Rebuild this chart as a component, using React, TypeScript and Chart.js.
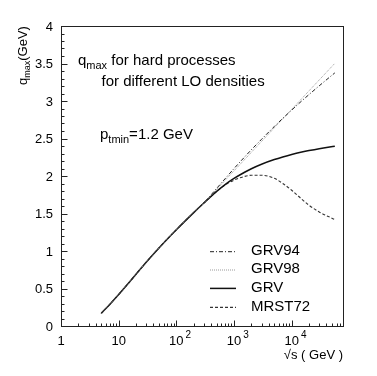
import React, { useEffect, useRef } from "react";
import { Chart, registerables } from "chart.js";

Chart.register(...registerables);

const sqrtS = [5, 7, 10, 15, 20, 30, 50, 70, 100, 150, 200, 300, 500, 700, 1000, 1500, 2000, 3000, 5000, 7000, 10000, 15000, 20000, 30000, 56000];
const grv94 = [0.17, 0.287, 0.419, 0.576, 0.69, 0.85, 1.041, 1.161, 1.283, 1.418, 1.512, 1.64, 1.835, 1.963, 2.099, 2.247, 2.35, 2.489, 2.66, 2.768, 2.879, 3.002, 3.086, 3.202, 3.375];
const grv98 = [0.17, 0.287, 0.419, 0.576, 0.69, 0.85, 1.041, 1.161, 1.283, 1.418, 1.512, 1.64, 1.822, 1.942, 2.069, 2.213, 2.316, 2.46, 2.642, 2.762, 2.889, 3.033, 3.136, 3.28, 3.502];
const grv = [0.17, 0.287, 0.419, 0.576, 0.69, 0.85, 1.041, 1.161, 1.283, 1.418, 1.512, 1.64, 1.795, 1.886, 1.968, 2.047, 2.097, 2.157, 2.219, 2.254, 2.287, 2.319, 2.339, 2.364, 2.397];
const mrst72 = [0.17, 0.287, 0.419, 0.576, 0.69, 0.85, 1.041, 1.161, 1.283, 1.418, 1.512, 1.64, 1.795, 1.88, 1.945, 1.993, 2.01, 2.01, 1.97, 1.9, 1.81, 1.69, 1.61, 1.52, 1.42];

const seriesNames = ["GRV94", "GRV98", "GRV", "MRST72"];
const yTickLabels = ["0", "0.5", "1", "1.5", "2", "2.5", "3", "3.5", "4"];
const xTickDecades = [0, 1, 2, 3, 4];

const X_MIN = 1;
const X_MAX = Math.pow(10, 4.89);
const FONT = '"Liberation Sans", Arial, Helvetica, sans-serif';

const styles = [
  { color: "#222", width: 1, dash: [4, 2, 1, 2] },
  { color: "#9a9a9a", width: 1, dash: [1, 1] },
  { color: "#111", width: 1.5, dash: [] as number[] },
  { color: "#333", width: 1.1, dash: [3, 2] },
];

const textPlugin = {
  id: "rootText",
  afterDraw(chart: any) {
    const ctx = chart.ctx as CanvasRenderingContext2D;
    const { left, right, top, bottom } = chart.chartArea;
    const xs = chart.scales.x;
    const ys = chart.scales.y;
    ctx.save();
    ctx.strokeStyle = "#222";
    ctx.lineWidth = 1;
    ctx.setLineDash([]);
    const L = Math.round(left) + 0.5;
    const R = Math.round(right) + 0.5;
    const T = Math.round(top) + 0.5;
    const B = Math.round(bottom) + 0.5;
    ctx.strokeRect(L, T, R - L, B - T);
    ctx.beginPath();
    for (let i = 0; i <= 40; i++) {
      const v = i / 10;
      const py = Math.round(ys.getPixelForValue(v)) + 0.5;
      const len = i % 5 === 0 ? 6 : 3;
      ctx.moveTo(L, py);
      ctx.lineTo(L + len, py);
    }
    for (const d of xTickDecades) {
      for (let m = 1; m <= 9; m++) {
        const v = m * Math.pow(10, d);
        if (v < X_MIN || v > X_MAX) continue;
        const px = Math.round(xs.getPixelForValue(v)) + 0.5;
        const len = m === 1 ? 6 : 3;
        ctx.moveTo(px, B);
        ctx.lineTo(px, B - len);
      }
    }
    ctx.stroke();

    ctx.fillStyle = "#000";
    ctx.font = `13px ${FONT}`;
    ctx.textAlign = "right";
    ctx.textBaseline = "alphabetic";
    yTickLabels.forEach((lab) => {
      const py = ys.getPixelForValue(parseFloat(lab));
      ctx.fillText(lab, left - 8, py + 4.7);
    });
    xTickDecades.forEach((d) => {
      const px = xs.getPixelForValue(Math.pow(10, d));
      ctx.font = `13px ${FONT}`;
      ctx.textAlign = "center";
      if (d === 0) ctx.fillText("1", px, 345);
      else {
        ctx.fillText("10", px, 345);
        if (d >= 2) {
          const w = ctx.measureText("10").width;
          ctx.font = `10px ${FONT}`;
          ctx.textAlign = "left";
          ctx.fillText(String(d), px + w / 2 + 2, 338);
        }
      }
    });
    ctx.font = `13px ${FONT}`;
    ctx.textAlign = "right";
    ctx.fillText("\u221As ( GeV )", right, 359);

    ctx.save();
    ctx.translate(27, 85);
    ctx.rotate(-Math.PI / 2);
    ctx.textAlign = "left";
    ctx.font = `13px ${FONT}`;
    let x = 0;
    ctx.fillText("q", x, 0);
    x += ctx.measureText("q").width;
    ctx.font = `9px ${FONT}`;
    ctx.fillText("max", x, 3);
    x += ctx.measureText("max").width;
    ctx.font = `13px ${FONT}`;
    ctx.fillText("(GeV)", x, 0);
    ctx.restore();

    const drawSub = (base: string, sub: string, rest: string, x0: number, y0: number) => {
      ctx.textAlign = "left";
      ctx.font = `15px ${FONT}`;
      let cx = x0;
      ctx.fillText(base, cx, y0);
      cx += ctx.measureText(base).width;
      ctx.font = `11px ${FONT}`;
      ctx.fillText(sub, cx, y0 + 4);
      cx += ctx.measureText(sub).width;
      ctx.font = `15px ${FONT}`;
      ctx.fillText(rest, cx, y0);
    };
    drawSub("q", "max", " for hard processes", 78, 65);
    ctx.font = `15px ${FONT}`;
    ctx.fillText("for different LO densities", 101.5, 86);
    drawSub("p", "tmin", "=1.2 GeV", 100, 139);

    const textBase = [255, 273.3, 291.7, 310.7];
    seriesNames.forEach((name, i) => {
      const st = styles[i];
      const ly = textBase[i] - 3.3;
      ctx.beginPath();
      ctx.strokeStyle = st.color;
      ctx.lineWidth = st.width;
      ctx.setLineDash(st.dash);
      ctx.moveTo(210, ly);
      ctx.lineTo(236, ly);
      ctx.stroke();
      ctx.setLineDash([]);
      ctx.font = `15px ${FONT}`;
      ctx.fillStyle = "#000";
      ctx.textAlign = "left";
      ctx.fillText(name, 251, textBase[i]);
    });
    ctx.restore();
  },
};

export default function App() {
  const ref = useRef<HTMLCanvasElement | null>(null);
  useEffect(() => {
    document.body.style.margin = "0";
    const canvas = ref.current!;
    const all = [grv94, grv98, grv, mrst72];
    const chart = new Chart(canvas, {
      type: "line",
      data: {
        datasets: all.map((vals, i) => ({
          label: seriesNames[i],
          data: sqrtS.map((s, j) => ({ x: s, y: vals[j] })),
          borderColor: styles[i].color,
          borderWidth: styles[i].width,
          borderDash: styles[i].dash,
          pointRadius: 0,
          fill: false,
          cubicInterpolationMode: "monotone" as const,
        })),
      },
      options: {
        responsive: false,
        animation: false,
        events: [],
        layout: { padding: { left: 61, top: 26, right: 34, bottom: 50 } },
        plugins: { legend: { display: false }, tooltip: { enabled: false } },
        scales: {
          x: { type: "logarithmic", min: X_MIN, max: X_MAX, display: false },
          y: { type: "linear", min: 0, max: 4, display: false },
        },
      },
      plugins: [textPlugin],
    });
    return () => chart.destroy();
  }, []);
  return (
    <div style={{ width: 377, height: 376, background: "#fff" }}>
      <canvas ref={ref} width={377} height={376} style={{ display: "block" }} />
    </div>
  );
}
